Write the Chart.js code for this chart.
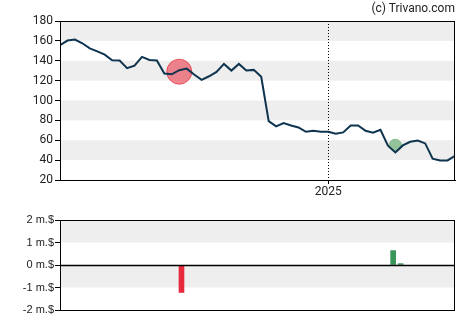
<!DOCTYPE html>
<html>
<head>
<meta charset="utf-8">
<script src="https://cdn.jsdelivr.net/npm/chart.js@4"></script>
<style>
    body { margin: 0; background: #fff; }
    #wrap { position: relative; width: 470px; height: 325px; }
    #priceChart { position: absolute; left: 0; top: 0; }
    #tradeChart { position: absolute; left: 0; top: 200px; }
    #credit { position: absolute; right: 15px; top: 1px; font: 12px Roboto, sans-serif; color: #222; }
</style>
</head>
<body>
<div id="wrap">
    <canvas id="priceChart" width="470" height="200"></canvas>
    <canvas id="tradeChart" width="470" height="125"></canvas>
    <div id="credit">(c) Trivano.com</div>
</div>
<script>
// Cours hebdomadaire (54 semaines)
const prices = [
    155.6, 160.3, 161.3, 157.6, 152.5, 149.5, 146.2, 140.5, 140.2, 132.5,
    135.1, 143.9, 140.8, 140.2, 127.1, 126.4, 130.5, 132.1, 126.1, 120.8,
    124.4, 128.8, 136.8, 130.1, 136.8, 130.1, 130.8, 123.8, 79.2, 73.9,
    77.2, 74.9, 72.9, 68.5, 69.5, 68.5, 68.5, 66.5, 67.9, 74.9,
    74.9, 69.5, 67.5, 70.5, 54.5, 47.8, 54.8, 58.5, 59.8, 56.8,
    41.4, 39.7, 39.7, 44.4
];
const yearWeek = 36;       // semaine du 1er janvier 2025
const yearLabel = '2025';

// Transactions d'initiés (semaine, montant en millions $)
const sellWeeks = [16.3];
const sellAmounts = [-1.22];
const buyWeeks = [44.7, 45.7];
const buyAmounts = [0.64, 0.06];

// Marqueurs sur la courbe
const sellMarker = { week: 16, price: 129 };
const buyMarker = { week: 45, price: 55 };

const priceTicks = [20, 40, 60, 80, 100, 120, 140, 160, 180];
const tradeTicks = [-2, -1, 0, 1, 2];

const FONT = 'Roboto, sans-serif';

// Bandes grises alternées + cadre noir
const bandsPlugin = {
    id: 'bands',
    beforeDatasetsDraw(chart) {
        const { ctx, chartArea: a, scales: { y } } = chart;
        const ticks = y.ticks.map(t => t.value);
        ctx.save();
        ctx.fillStyle = '#eeeeee';
        for (let i = 1; i < ticks.length - 1; i += 2) {
            const y1 = y.getPixelForValue(ticks[i]);
            const y2 = y.getPixelForValue(ticks[i + 1]);
            ctx.fillRect(a.left, y2, a.right - a.left, y1 - y2);
        }
        ctx.restore();
    },
    afterDraw(chart) {
        const { ctx, chartArea: a } = chart;
        ctx.save();
        ctx.strokeStyle = '#000';
        ctx.lineWidth = 1;
        ctx.strokeRect(a.left + 0.5, a.top + 0.5, a.right - a.left - 1, a.bottom - a.top);
        ctx.restore();
    }
};

// Trait pointillé vertical au changement d'année
const yearLinePlugin = {
    id: 'yearLine',
    beforeDatasetsDraw(chart) {
        const { ctx, chartArea: a, scales: { x } } = chart;
        const px = Math.round(x.getPixelForValue(yearWeek)) + 0.5;
        ctx.save();
        ctx.strokeStyle = '#000';
        ctx.lineWidth = 1;
        ctx.setLineDash([1, 2]);
        ctx.beginPath();
        ctx.moveTo(px, a.top);
        ctx.lineTo(px, a.bottom);
        ctx.stroke();
        ctx.restore();
    }
};

// Ligne du zéro
const zeroLinePlugin = {
    id: 'zeroLine',
    afterDatasetsDraw(chart) {
        const { ctx, chartArea: a, scales: { y } } = chart;
        const py = Math.round(y.getPixelForValue(0)) + 0.5;
        ctx.save();
        ctx.strokeStyle = '#000';
        ctx.lineWidth = 1.5;
        ctx.beginPath();
        ctx.moveTo(a.left, py);
        ctx.lineTo(a.right, py);
        ctx.stroke();
        ctx.restore();
    }
};

const weeks = prices.map((p, i) => ({ x: i, y: p }));

new Chart(document.getElementById('priceChart'), {
    type: 'line',
    data: {
        datasets: [
            {
                data: weeks,
                borderColor: '#0e3450',
                borderWidth: 2,
                pointRadius: 0,
                tension: 0,
                order: 0
            },
            {
                type: 'scatter',
                data: [{ x: sellMarker.week, y: sellMarker.price }],
                backgroundColor: 'rgba(234, 70, 85, 0.65)',
                borderColor: 'rgba(230, 60, 75, 0.8)',
                borderWidth: 1,
                pointRadius: 12.5,
                order: 1
            },
            {
                type: 'scatter',
                data: [{ x: buyMarker.week, y: buyMarker.price }],
                backgroundColor: 'rgba(110, 175, 120, 0.7)',
                borderColor: 'rgba(110, 175, 120, 0.8)',
                borderWidth: 1,
                pointRadius: 6,
                order: 1
            }
        ]
    },
    options: {
        responsive: false,
        animation: false,
        layout: { padding: { left: 0, right: 15, top: 21, bottom: 0 } },
        plugins: { legend: { display: false }, tooltip: { enabled: false } },
        scales: {
            x: {
                type: 'linear',
                min: 0,
                max: prices.length - 1,
                afterBuildTicks: scale => { scale.ticks = [{ value: yearWeek }]; },
                afterFit: scale => { scale.height = 20; },
                ticks: {
                    callback: () => yearLabel,
                    color: '#222',
                    font: { family: FONT, size: 12 },
                    padding: 1,
                    maxRotation: 0
                },
                grid: { drawOnChartArea: false, tickLength: 4, color: '#000' },
                border: { color: '#000' }
            },
            y: {
                min: 20,
                max: 180,
                afterBuildTicks: scale => { scale.ticks = priceTicks.map(v => ({ value: v })); },
                afterFit: scale => { scale.width = 60; },
                ticks: {
                    color: '#222',
                    font: { family: FONT, size: 12 },
                    padding: 2
                },
                grid: { drawOnChartArea: false, tickLength: 5, color: '#000' },
                border: { color: '#000' }
            }
        }
    },
    plugins: [bandsPlugin, yearLinePlugin]
});

new Chart(document.getElementById('tradeChart'), {
    type: 'bar',
    data: {
        datasets: [
            {
                data: sellWeeks.map((w, i) => ({ x: w, y: sellAmounts[i] })),
                backgroundColor: '#e8293c',
                barThickness: 5
            },
            {
                data: buyWeeks.map((w, i) => ({ x: w, y: buyAmounts[i] })),
                backgroundColor: '#3a9559',
                barThickness: 5
            }
        ]
    },
    options: {
        responsive: false,
        animation: false,
        layout: { padding: { left: 0, right: 15, top: 20, bottom: 15 } },
        plugins: { legend: { display: false }, tooltip: { enabled: false } },
        datasets: { bar: { grouped: false } },
        scales: {
            x: {
                type: 'linear',
                min: 0,
                max: prices.length - 1,
                offset: false,
                display: false
            },
            y: {
                min: -2,
                max: 2,
                afterBuildTicks: scale => { scale.ticks = tradeTicks.map(v => ({ value: v })); },
                afterFit: scale => { scale.width = 60; },
                ticks: {
                    callback: v => v + ' m.$',
                    color: '#222',
                    font: { family: 'Liberation Sans, Arial, sans-serif', size: 11 },
                    padding: 1
                },
                grid: { drawOnChartArea: false, tickLength: 5, color: '#000' },
                border: { color: '#000' }
            }
        }
    },
    plugins: [bandsPlugin, zeroLinePlugin]
});
</script>
</body>
</html>
